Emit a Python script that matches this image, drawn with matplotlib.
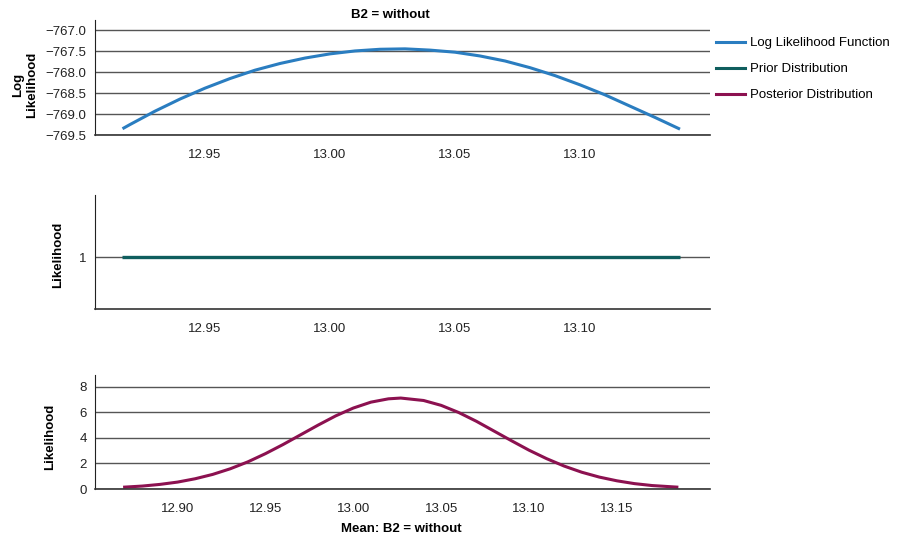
import numpy as np
import matplotlib
matplotlib.use("Agg")
import matplotlib.pyplot as plt
from matplotlib.lines import Line2D

plt.rcParams['font.family'] = ['Liberation Sans', 'DejaVu Sans']
plt.rcParams['font.size'] = 9.5

# values
mean_ll = [12.917, 12.92, 12.93, 12.94, 12.95, 12.96, 12.97, 12.98, 12.99, 13.00, 13.01,
           13.02, 13.03, 13.04, 13.05, 13.06, 13.07, 13.08, 13.09, 13.10, 13.11, 13.12,
           13.13, 13.14]
loglik = [-769.35, -769.25, -768.93, -768.64, -768.38, -768.15, -767.95, -767.79, -767.66,
          -767.56, -767.49, -767.45, -767.44, -767.47, -767.52, -767.61, -767.73, -767.89,
          -768.08, -768.30, -768.54, -768.81, -769.08, -769.36]

mean_prior = [12.917, 13.14]
prior = [1, 1]

mean_post = [12.869, 12.88, 12.89, 12.90, 12.91, 12.92, 12.93, 12.94, 12.95, 12.96, 12.97,
             12.98, 12.99, 13.00, 13.01, 13.02, 13.027, 13.04, 13.05, 13.06, 13.07, 13.08,
             13.09, 13.10, 13.11, 13.12, 13.13, 13.14, 13.15, 13.16, 13.17, 13.185]
posterior = [0.14, 0.23, 0.36, 0.54, 0.80, 1.14, 1.58, 2.12, 2.76, 3.47, 4.23, 4.99, 5.71, 6.32,
             6.78, 7.04, 7.10, 6.91, 6.53, 5.97, 5.29, 4.53, 3.77, 3.03, 2.37, 1.79, 1.31, 0.93,
             0.64, 0.42, 0.27, 0.14]

ticks_top = [12.95, 13.00, 13.05, 13.10]
ticks_bot = [12.90, 12.95, 13.00, 13.05, 13.10, 13.15]
yticks_top = [-767.0, -767.5, -768.0, -768.5, -769.0, -769.5]
yticks_bot = [0, 2, 4, 6, 8]

c_ll = '#2a7dc0'
c_prior = '#0f5e5e'
c_post = '#8c1150'
grid_c = '#555555'

W, H = 897, 540
fig = plt.figure(figsize=(W / 100, H / 100), dpi=100)


def make_ax(top_px, bot_px):
    ax = fig.add_axes([95 / W, 1 - bot_px / H, 615 / W, (bot_px - top_px) / H])
    for s in ['top', 'right']:
        ax.spines[s].set_visible(False)
    ax.spines['left'].set_color('#222222')
    ax.spines['bottom'].set_color('#333333')
    ax.spines['bottom'].set_linewidth(1.2)
    ax.tick_params(length=0, labelsize=9.5, colors='#222222')
    ax.tick_params(axis='x', pad=10)
    ax.tick_params(axis='y', pad=6)
    ax.yaxis.grid(True, color=grid_c, linewidth=1.0)
    ax.set_axisbelow(True)
    return ax


# top panel: log likelihood
ax1 = make_ax(20, 135)
ax1.plot(mean_ll, loglik, color=c_ll, linewidth=2.2, solid_capstyle='butt')
ax1.set_xlim(12.906, 13.152)
ax1.set_ylim(-769.5, -766.75)
ax1.set_xticks(ticks_top)
ax1.set_xticklabels([f"{t:.2f}" for t in ticks_top])
ax1.set_yticks(yticks_top)
ax1.set_yticklabels([f"\u2212{abs(t):.1f}" for t in yticks_top])

# middle panel: prior
ax2 = make_ax(195, 309)
ax2.plot(mean_prior, prior, color=c_prior, linewidth=2.4, solid_capstyle='butt')
ax2.set_xlim(12.906, 13.152)
ax2.set_ylim(0.5, 1.6)
ax2.set_xticks(ticks_top)
ax2.set_xticklabels([f"{t:.2f}" for t in ticks_top])
ax2.set_yticks([1])
ax2.set_yticklabels(['1'])

# bottom panel: posterior
ax3 = make_ax(375, 489)
ax3.plot(mean_post, posterior, color=c_post, linewidth=2.2, solid_capstyle='butt')
ax3.set_xlim(12.853, 13.203)
ax3.set_ylim(0, 8.9)
ax3.set_xticks(ticks_bot)
ax3.set_xticklabels([f"{t:.2f}" for t in ticks_bot])
ax3.set_yticks(yticks_bot)

# labels
fig.text(390 / W, 1 - 15 / H, "B2 = without", ha='center', va='center',
         fontsize=9.5, fontweight='bold')
fig.text(25 / W, 1 - 85 / H, "Log\nLikelihood", ha='center', va='center', rotation=90,
         fontsize=9.5, fontweight='bold', linespacing=1.15)
fig.text(58 / W, 1 - 255 / H, "Likelihood", ha='center', va='center', rotation=90,
         fontsize=9.5, fontweight='bold')
fig.text(50 / W, 1 - 437 / H, "Likelihood", ha='center', va='center', rotation=90,
         fontsize=9.5, fontweight='bold')
fig.text(401 / W, 1 - 529 / H, "Mean: B2 = without", ha='center', va='center',
         fontsize=9.5, fontweight='bold')

handles = [Line2D([], [], color=c_ll, linewidth=2.2),
           Line2D([], [], color=c_prior, linewidth=2.2),
           Line2D([], [], color=c_post, linewidth=2.2)]
labels = ["Log Likelihood Function", "Prior Distribution", "Posterior Distribution"]
fig.legend(handles, labels, loc='upper left', bbox_to_anchor=(716 / W, 1 - 37 / H),
           frameon=False, fontsize=9.5, handlelength=2.2, handletextpad=0.4,
           labelspacing=1.05, borderpad=0, borderaxespad=0)

fig.savefig("out.png", dpi=100)
